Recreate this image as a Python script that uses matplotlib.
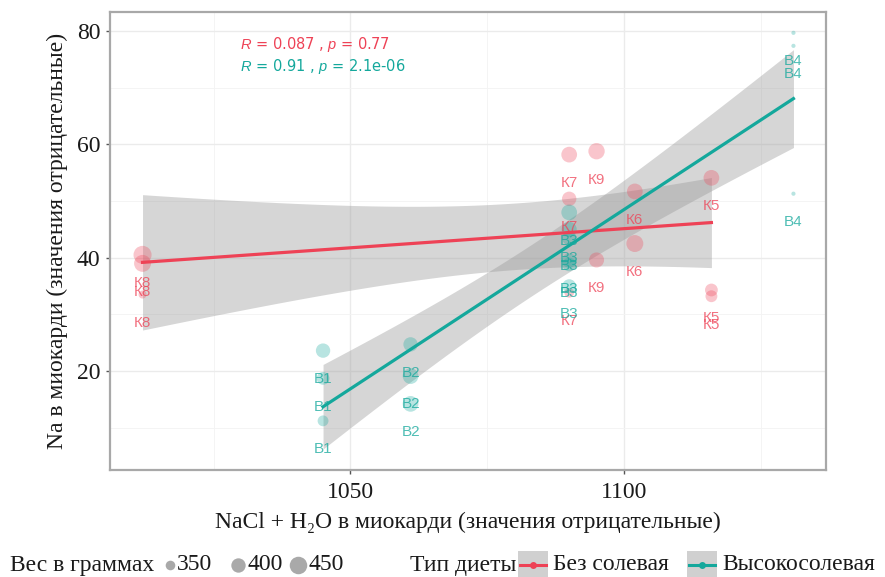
import math
import numpy as np
import matplotlib
matplotlib.use("Agg")
import matplotlib.pyplot as plt
from matplotlib.lines import Line2D
from matplotlib.patches import Rectangle

# --- data ---
ctrl_x = [1012, 1012, 1012, 1090, 1090, 1090, 1095, 1095, 1102, 1102, 1116, 1116, 1116]
ctrl_y = [40.5, 39.0, 33.5, 58.2, 50.4, 33.8, 58.8, 39.6, 51.7, 42.5, 54.1, 34.3, 33.2]
ctrl_w = [460, 440, 340, 420, 400, 350, 430, 410, 420, 440, 420, 380, 370]
ctrl_id = ["К8", "К8", "К8", "К7", "К7", "К7", "К9", "К9", "К6", "К6", "К5", "К5", "К5"]

salt_x = [1045, 1045, 1045, 1061, 1061, 1061, 1090, 1090, 1090, 1090, 1090, 1090, 1131, 1131, 1131]
salt_y = [23.6, 18.7, 11.2, 24.7, 19.1, 14.2, 48.0, 45.0, 43.5, 39.5, 38.8, 35.0, 79.7, 77.4, 51.3]
salt_w = [400, 380, 360, 400, 420, 420, 420, 410, 400, 400, 390, 390, 330, 330, 330]
salt_id = ["В1", "В1", "В1", "В2", "В2", "В2", "В3", "В3", "В3", "В3", "В3", "В3", "В4", "В4", "В4"]

groups = ["Без солевая", "Высокосолевая"]
stats = [("0.087", "0.77"), ("0.91", "2.1e-06")]
size_breaks = [350, 400, 450]
label_nudge = -5

RED = "#EE4256"
TEAL = "#14A89C"
INK = "#1a1a1a"
SERIF = ["Liberation Serif", "DejaVu Serif"]
SANS = ["Liberation Sans", "DejaVu Sans"]
FS = 17

plt.rcParams["mathtext.fontset"] = "custom"
plt.rcParams["mathtext.it"] = "Liberation Sans:italic"
plt.rcParams["mathtext.rm"] = "Liberation Sans"

w_all = ctrl_w + salt_w
wmin, wmax = min(w_all), max(w_all)


def point_size(w):
    # ggplot-like area scale, result as diameter in points
    return 3 + 10 * math.sqrt((w - wmin) / (wmax - wmin))


def t_quantile(p, df):
    # inverse Student t cdf by bisection on a numeric integral
    c = math.gamma((df + 1) / 2) / (math.sqrt(df * math.pi) * math.gamma(df / 2))
    def cdf(t):
        xs = np.linspace(0, t, 2001)
        ys = c * (1 + xs ** 2 / df) ** (-(df + 1) / 2)
        return 0.5 + np.trapezoid(ys, xs)
    lo, hi = 0.0, 20.0
    for _ in range(60):
        mid = (lo + hi) / 2
        if cdf(mid) < p:
            lo = mid
        else:
            hi = mid
    return (lo + hi) / 2


def fit_band(x, y):
    x = np.asarray(x, float)
    y = np.asarray(y, float)
    n = len(x)
    slope, icpt = np.polyfit(x, y, 1)
    resid = y - (slope * x + icpt)
    s = math.sqrt((resid ** 2).sum() / (n - 2))
    xx = np.linspace(x.min(), x.max(), 80)
    yy = slope * xx + icpt
    se = s * np.sqrt(1 / n + (xx - x.mean()) ** 2 / ((x - x.mean()) ** 2).sum())
    t = t_quantile(0.975, n - 2)
    return xx, yy, yy - t * se, yy + t * se


W, H = 885, 577
fig = plt.figure(figsize=(W / 100, H / 100), dpi=100)
ax = fig.add_axes([110 / W, 107 / H, 716 / W, 458 / H])

series = [
    (ctrl_x, ctrl_y, ctrl_w, ctrl_id, RED),
    (salt_x, salt_y, salt_w, salt_id, TEAL),
]

for xs, ys, ws, ids, col in series:
    sizes = [point_size(w) ** 2 for w in ws]
    ax.scatter(xs, ys, s=sizes, color=col, alpha=0.3, linewidths=0, zorder=2)
    for xv, yv, lab in zip(xs, ys, ids):
        ax.text(xv, yv + label_nudge, lab, color=col, alpha=0.75, fontsize=11,
                family=SANS, ha="center", va="center", zorder=3)

for xs, ys, ws, ids, col in series:
    xx, yy, lo, hi = fit_band(xs, ys)
    ax.fill_between(xx, lo, hi, color="#999999", alpha=0.4, linewidth=0, zorder=1)
    ax.plot(xx, yy, color=col, lw=2.3, zorder=4)

for i, (r, p) in enumerate(stats):
    col = [RED, TEAL][i]
    ax.text(0.182, 0.928 - i * 0.048, "$R$ = %s , $p$ = %s" % (r, p), color=col,
            fontsize=10.5, transform=ax.transAxes, va="center", ha="left")

# axis limits with ggplot-style 5% expansion
all_x = ctrl_x + salt_x
all_y = ctrl_y + salt_y + [v + label_nudge for v in ctrl_y + salt_y]
xr = max(all_x) - min(all_x)
yr = max(all_y) - min(all_y)
ax.set_xlim(min(all_x) - 0.05 * xr, max(all_x) + 0.05 * xr)
ax.set_ylim(min(all_y) - 0.05 * yr, max(all_y) + 0.05 * yr)

ax.set_xticks([1050, 1100])
ax.set_xticks([1025, 1075, 1125], minor=True)
ax.set_yticks([20, 40, 60, 80])
ax.set_yticks([10, 30, 50, 70], minor=True)
ax.grid(True, which="major", color="#EBEBEB", lw=1.0, zorder=0)
ax.grid(True, which="minor", color="#F3F3F3", lw=0.6, zorder=0)
ax.set_axisbelow(True)
ax.tick_params(which="major", length=3, width=1, color="#555555", labelsize=FS,
               labelcolor=INK)
ax.tick_params(axis="x", which="major", pad=6)
ax.tick_params(axis="y", which="major", pad=4)
ax.tick_params(which="minor", length=0)
for lab in ax.get_xticklabels() + ax.get_yticklabels():
    lab.set_family(SERIF)
for sp in ax.spines.values():
    sp.set_color("#A8A8A8")
    sp.set_linewidth(1.6)

ax.set_xlabel("NaCl + H₂O в миокарди (значения отрицательные)", family=SERIF,
              fontsize=FS, color=INK, labelpad=6)
ax.set_ylabel("Na в миокарди (значения отрицательные)", family=SERIF,
              fontsize=FS, color=INK, labelpad=6)

# bottom legends, laid out by hand in figure pixels
ly = 1 - 565 / H
fig.text(10 / W, ly, "Вес в граммах", family=SERIF, fontsize=FS,
         va="center", ha="left", color=INK)
for b, cx in zip(size_breaks, [170, 238, 298]):
    d = point_size(b)
    fig.add_artist(Line2D([cx / W], [ly], transform=fig.transFigure, ls="",
                          marker="o", color="#9a9a9a", alpha=0.85, markeredgewidth=0,
                          markersize=d))
    fig.text((cx + d * 0.69 + 2) / W, ly, str(b), family=SERIF, fontsize=FS,
             va="center", ha="left", color=INK)

fig.text(410 / W, ly, "Тип диеты", family=SERIF, fontsize=FS,
         va="center", ha="left", color=INK)
for name, col, kx in zip(groups, [RED, TEAL], [518, 687]):
    fig.add_artist(Rectangle((kx / W, ly - 14 / H), 30 / W, 28 / H,
                             transform=fig.transFigure, facecolor="#D0D0D0",
                             edgecolor="none"))
    fig.add_artist(Line2D([(kx + 2) / W, (kx + 28) / W], [ly, ly],
                          transform=fig.transFigure, color=col, lw=2.2))
    fig.add_artist(Line2D([(kx + 15) / W], [ly], transform=fig.transFigure, ls="",
                          marker="o", color=col, markersize=5, markeredgewidth=0))
    fig.text((kx + 35) / W, ly, name, family=SERIF, fontsize=FS,
             va="center", ha="left", color=INK)

fig.savefig("out.png", dpi=100)
